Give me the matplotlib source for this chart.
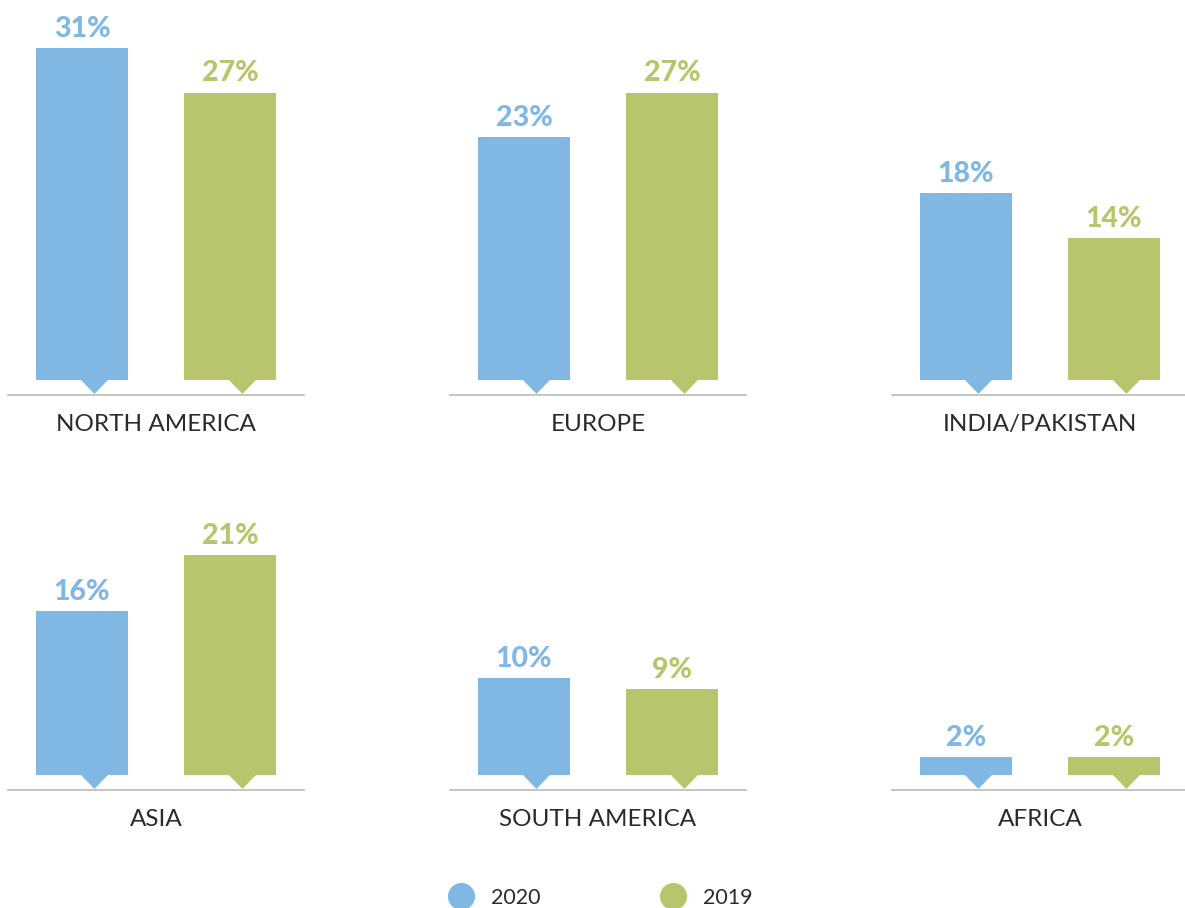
import matplotlib.pyplot as plt
from matplotlib.patches import Polygon
from matplotlib.lines import Line2D

# ------------------------------
# data
# ------------------------------
regions = ["NORTH AMERICA", "EUROPE", "INDIA/PAKISTAN",
           "ASIA", "SOUTH AMERICA", "AFRICA"]
share_2020 = [31, 23, 18, 16, 10, 2]
share_2019 = [27, 27, 14, 21, 9, 2]
years = ["2020", "2019"]

# ------------------------------
# style
# ------------------------------
BLUE = "#80b7e3"
GREEN = "#b8c56c"
TEXT = "#2b2b2b"
LINE = "#bababa"
colors = [BLUE, GREEN]

W, H = 1185, 908
PX = 11.2            # pixels per percent
NOTCH = 15 / PX      # height of the pointer under each bar
MIN_BAR = 2.95       # small bars are drawn a bit taller so they stay visible
BAR_W = 0.615
TIP_OFF = 0.084
TIP_HALF = 0.095

plt.rcParams["font.family"] = ["Lato", "DejaVu Sans"]

fig = plt.figure(figsize=(W / 100, H / 100), dpi=100)

panel_left = [8, 450, 892]
row_base = [395, 790]   # y of the baseline (from top)
panel_w = 296
panel_h = 395

for i, name in enumerate(regions):
    row, col = divmod(i, 3)
    left = panel_left[col] / W
    bottom = (H - row_base[row]) / H
    ax = fig.add_axes([left, bottom, panel_w / W, panel_h / H])
    ax.set_xlim(-0.5, 1.5)
    ax.set_ylim(0, panel_h / PX)
    ax.axis("off")

    vals = [share_2020[i], share_2019[i]]
    for j, v in enumerate(vals):
        h = max(v, MIN_BAR)
        ax.bar(j, h - NOTCH, bottom=NOTCH, width=BAR_W, color=colors[j],
               linewidth=0)
        tx = j + TIP_OFF
        ax.add_patch(Polygon([(tx - TIP_HALF, NOTCH + 0.05), (tx + TIP_HALF, NOTCH + 0.05),
                              (tx, 0.1)], closed=True, color=colors[j], lw=0))
        ax.annotate(f"{v}%", xy=(j, h), xytext=(0, 8), textcoords="offset points",
                    ha="center", va="baseline", fontsize=20.5, fontweight=900,
                    color=colors[j])

    ax.axhline(0, color=LINE, lw=1.2, clip_on=False)
    ax.annotate(name, xy=(0.5, 0), xycoords="axes fraction", xytext=(0, -26),
                textcoords="offset points", ha="center", va="baseline",
                fontsize=17.5, color=TEXT)

handles = [Line2D([], [], marker="o", linestyle="none", markersize=19.5,
                  markerfacecolor=c, markeredgewidth=0) for c in colors]
fig.legend(handles, years, loc="center", bbox_to_anchor=(0.503, 0.011),
           ncol=2, frameon=False, fontsize=15.5, handletextpad=0.35,
           columnspacing=5.2, labelcolor=TEXT, borderpad=0)

fig.savefig("out.png", dpi=100)
